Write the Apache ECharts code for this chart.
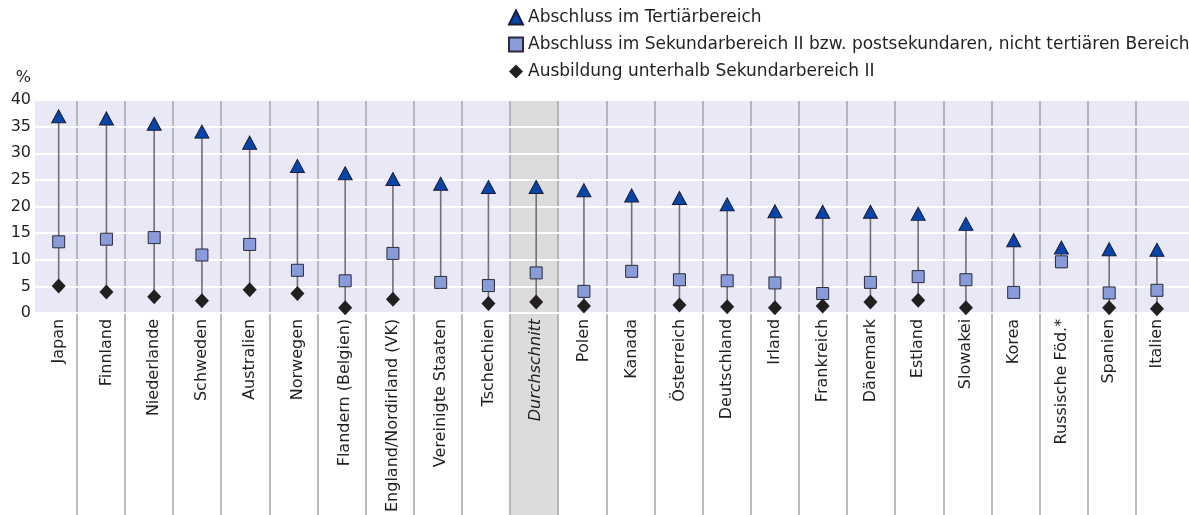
<!DOCTYPE html>
<html><head><meta charset="utf-8">
<script src="https://cdn.jsdelivr.net/npm/echarts@6/dist/echarts.min.js"></script>
<style>html,body{margin:0;padding:0;background:#fff}#c{width:1189px;height:515px}</style>
</head><body><div id="c"></div>
<script>
const categories = ['Japan','Finnland','Niederlande','Schweden','Australien','Norwegen','Flandern (Belgien)','England/Nordirland (VK)','Vereinigte Staaten','Tschechien','Durchschnitt','Polen','Kanada','Österreich','Deutschland','Irland','Frankreich','Dänemark','Estland','Slowakei','Korea','Russische Föd.*','Spanien','Italien'];
const tertiary =       [36.9, 36.5, 35.5, 34.0, 31.9, 27.5, 26.1, 25.0, 24.1, 23.5, 23.5, 22.9, 21.9, 21.4, 20.2, 18.9, 18.8, 18.8, 18.4, 16.5, 13.4, 12.0, 11.7, 11.6];
const upperSecondary = [13.1, 13.6, 13.9, 10.6, 12.6, 7.7, 5.7, 10.9, 5.4, 4.8, 7.2, 3.7, 7.5, 5.9, 5.7, 5.3, 3.3, 5.4, 6.5, 5.9, 3.5, 9.3, 3.4, 3.9];
const belowSecondary = [4.7, 3.6, 2.7, 1.9, 4.0, 3.3, 0.6, 2.2, null, 1.4, 1.7, 0.9, null, 1.1, 0.8, 0.6, 0.9, 1.7, 2.0, 0.6, null, null, 0.6, 0.4];
const seriesNames = ['Abschluss im Tertiärbereich','Abschluss im Sekundarbereich II bzw. postsekundaren, nicht tertiären Bereich','Ausbildung unterhalb Sekundarbereich II'];
const highlightCategory = 'Durchschnitt';
const yMin = 0, yMax = 40, yStep = 5;

const FONT = '"DejaVu Sans", Verdana, sans-serif';
const TXT = '#231F20';

const rangeData = categories.map((c, i) => {
  const vals = [tertiary[i], upperSecondary[i], belowSecondary[i]].filter(v => v != null);
  return [i, Math.min(...vals), Math.max(...vals)];
});
const bandData = categories.map(c => c === highlightCategory ? 1 : 0);
const labelData = categories.map(c => c === highlightCategory
  ? {value: c, textStyle: {fontStyle: 'italic'}} : c);

const chart = echarts.init(document.getElementById('c'), null, {renderer: 'canvas'});
chart.setOption({
  animation: false,
  textStyle: {fontFamily: FONT},
  legend: {
    orient: 'vertical', left: 503, top: 4, itemWidth: 14, itemHeight: 14, itemGap: 10,
    textStyle: {fontSize: 17, color: TXT, fontFamily: FONT},
    data: [
      {name: seriesNames[0], icon: 'triangle'},
      {name: seriesNames[1], icon: 'rect'},
      {name: seriesNames[2], icon: 'diamond'}
    ],
    selectedMode: false
  },
  grid: [
    {left: 34.8, width: 1146, top: 100, height: 213, show: false},
    {left: 28.55, width: 1155.6, top: 100, height: 415, show: false},
    {left: 35, right: 0, top: 100, height: 213, show: true, backgroundColor: '#E8E8F6', borderWidth: 0}
  ],
  xAxis: [
    {gridIndex: 0, type: 'category', data: labelData, z: 8,
     axisLine: {show: false}, axisTick: {show: false}, splitLine: {show: false},
     axisLabel: {rotate: 90, interval: 0, margin: 8, fontSize: 16, color: TXT, fontFamily: FONT}},
    {gridIndex: 1, type: 'category', data: categories,
     axisLine: {show: false}, axisTick: {show: false}, axisLabel: {show: false},
     splitLine: {show: true, interval: 0, showMinLine: false, showMaxLine: false, lineStyle: {color: '#A4A4AC', width: 1.5}}, z: 2},
    {gridIndex: 2, type: 'value', min: 0, max: 1, show: false}
  ],
  yAxis: [
    {gridIndex: 0, type: 'value', min: yMin, max: yMax, show: false},
    {gridIndex: 1, type: 'value', min: 0, max: 1, show: false},
    {gridIndex: 2, type: 'value', min: yMin, max: yMax, interval: yStep,
     name: '%', nameLocation: 'end', nameGap: 14,
     nameTextStyle: {fontSize: 16, color: TXT, fontFamily: FONT, align: 'right', padding: [0, 4, 0, 0]},
     axisLine: {show: false}, axisTick: {show: false},
     axisLabel: {margin: 4, fontSize: 16, color: TXT, fontFamily: FONT},
     splitLine: {show: true, lineStyle: {color: '#FFFFFF', width: 2}}, z: 3}
  ],
  series: [
    {type: 'bar', xAxisIndex: 1, yAxisIndex: 1, data: bandData, barWidth: '100%', silent: true,
     itemStyle: {color: '#DCDCDC'}, z: 1},
    {type: 'custom', xAxisIndex: 0, yAxisIndex: 0, data: rangeData, silent: true, z: 4,
     renderItem: (params, api) => {
       const a = api.coord([api.value(0), api.value(1)]);
       const b = api.coord([api.value(0), api.value(2)]);
       return {type: 'line', shape: {x1: a[0], y1: a[1], x2: b[0], y2: b[1]},
               style: {stroke: '#707070', lineWidth: 1.6}};
     }},
    {name: seriesNames[0], type: 'scatter', xAxisIndex: 0, yAxisIndex: 0, data: tertiary,
     symbol: 'triangle', symbolSize: [14, 13], z: 5,
     itemStyle: {color: '#0746A8', borderColor: '#1B1B3A', borderWidth: 1, opacity: 1}},
    {name: seriesNames[1], type: 'scatter', xAxisIndex: 0, yAxisIndex: 0, data: upperSecondary,
     symbol: 'rect', symbolSize: 12, z: 6,
     itemStyle: {color: '#8A9BDA', borderColor: '#2B2B3A', borderWidth: 1, opacity: 1}},
    {name: seriesNames[2], type: 'scatter', xAxisIndex: 0, yAxisIndex: 0, data: belowSecondary,
     symbol: 'diamond', symbolSize: [14, 15], z: 7,
     itemStyle: {color: '#231F20', opacity: 1}}
  ]
});
</script>
</body></html>
